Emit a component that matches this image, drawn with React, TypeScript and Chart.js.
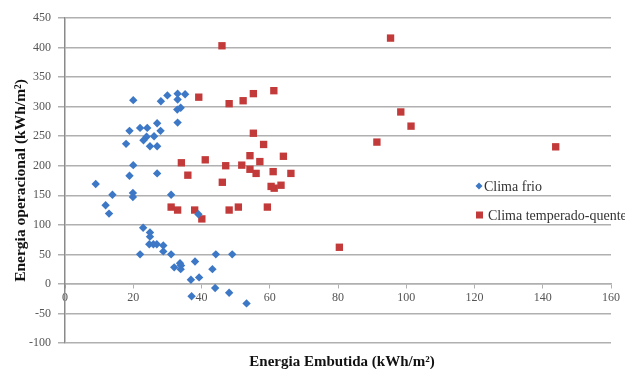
import React, { useEffect, useRef } from "react";
import { Chart, registerables } from "chart.js";

Chart.register(...registerables);

const frioX = [20.0, 28.1, 30.0, 33.0, 35.2, 33.0, 33.9, 32.9, 33.0,
  18.9, 22.0, 24.1, 27.0, 28.0, 23.9, 23.0, 26.1, 24.9, 27.0, 17.9,
  20.0, 18.9, 27.0,
  9.0, 13.9, 19.9, 19.9, 11.9, 12.9, 31.1,
  22.9, 24.9, 24.9, 24.7, 25.9, 26.9, 28.8, 28.8, 31.1, 22.0,
  32.0, 33.7, 34.0, 33.9, 38.1, 43.2, 36.9, 39.3,
  44.2, 49.0, 44.0, 48.1, 37.1, 53.2, 39.1];
const frioY = [311, 309, 319, 322, 321, 312, 298, 295, 273,
  259, 264, 264, 272, 259, 249, 243, 250, 233, 233, 237,
  201, 183, 187,
  169, 151, 154, 147, 133, 119, 151,
  95, 87, 80, 67, 67, 67, 65, 55, 50, 50,
  28, 35, 31, 25, 38, 25, 7, 11,
  50, 50, -7, -15, -21, -33, 118];

const quenteX = [46.0, 95.4, 39.2, 48.1, 52.2, 55.2, 61.2,
  98.4, 101.4, 91.4, 143.8,
  55.2, 58.2, 54.2, 64.0, 57.1, 51.8, 54.2, 56.0, 61.0, 66.2,
  60.4, 61.3, 63.3, 46.1,
  34.1, 41.1, 47.1, 36.0,
  31.1, 33.0, 38.0, 40.1, 48.1, 50.8, 59.3,
  80.4];
const quenteY = [403, 416, 316, 305, 310, 322, 327,
  291, 267, 240, 232,
  255, 236, 217, 216, 207, 201, 194, 187, 190, 187,
  165, 162, 167, 172,
  205, 210, 200, 184,
  130, 125, 125, 110, 125, 130, 130,
  62];

const seriesNames = ["Clima frio", "Clima temperado-quente"];
const xTitle = "Energia Embutida (kWh/m²)";
const yTitle = "Energia operacional (kWh/m²)";

const BLUE = "#3d78c6";
const RED = "#c33a3a";
const SERIF = "'Liberation Serif', 'Times New Roman', serif";

const extrasPlugin = {
  id: "extras",
  afterDraw(chart: any) {
    const { ctx, chartArea } = chart;
    ctx.save();
    // x axis title
    ctx.fillStyle = "#111";
    ctx.font = `bold 15px ${SERIF}`;
    ctx.textAlign = "center";
    ctx.textBaseline = "middle";
    ctx.fillText(xTitle, (chartArea.left + chartArea.right) / 2 + 4, chart.height - 7);
    // legend
    const lx = chartArea.right - 132;
    const y1 = chartArea.top + 168;
    const y2 = chartArea.top + 197;
    ctx.fillStyle = BLUE;
    ctx.beginPath();
    ctx.moveTo(lx, y1 - 3.5);
    ctx.lineTo(lx + 3.5, y1);
    ctx.lineTo(lx, y1 + 3.5);
    ctx.lineTo(lx - 3.5, y1);
    ctx.closePath();
    ctx.fill();
    ctx.fillStyle = RED;
    ctx.fillRect(lx - 3, y2 - 3.5, 7, 7);
    ctx.fillStyle = "#333";
    ctx.font = `14px ${SERIF}`;
    ctx.textAlign = "left";
    ctx.fillText(seriesNames[0], lx + 5, y1 + 1);
    ctx.fillText(seriesNames[1], lx + 9, y2 + 1);
    ctx.restore();
  },
};

export default function App() {
  const ref = useRef<HTMLCanvasElement | null>(null);
  useEffect(() => {
    if (!ref.current) return;
    const chart = new Chart(ref.current, {
      type: "scatter",
      data: {
        datasets: [
          {
            label: seriesNames[0],
            data: frioX.map((x, i) => ({ x, y: frioY[i] })),
            pointStyle: "rectRot",
            pointRadius: 4.2,
            backgroundColor: BLUE,
            borderColor: BLUE,
            borderWidth: 0,
          },
          {
            label: seriesNames[1],
            data: quenteX.map((x, i) => ({ x, y: quenteY[i] })),
            pointStyle: "rect",
            pointRadius: 5.2,
            backgroundColor: RED,
            borderColor: RED,
            borderWidth: 0,
          },
        ],
      },
      options: {
        animation: false,
        responsive: true,
        maintainAspectRatio: false,
        layout: { padding: { left: 0, right: 14, top: 18, bottom: 26 } },
        plugins: {
          legend: { display: false },
          tooltip: { enabled: false },
        },
        scales: {
          x: {
            type: "linear",
            position: { y: 0 } as any,
            min: 0,
            max: 160,
            ticks: {
              stepSize: 20,
              color: "#555",
              font: { family: SERIF, size: 12 },
              padding: 3,
            },
            grid: {
              display: true,
              drawOnChartArea: false,
              drawTicks: true,
              tickLength: 4,
              color: "#b0b0b0",
            },
            border: { display: true, color: "#b0b0b0", width: 1.5 },
          },
          y: {
            type: "linear",
            min: -100,
            max: 450,
            afterFit: (s: any) => {
              s.width = 65;
            },
            ticks: {
              stepSize: 50,
              color: "#555",
              font: { family: SERIF, size: 12 },
              padding: 7,
            },
            grid: {
              color: "#b0b0b0",
              lineWidth: 1.5,
              tickLength: 7,
            },
            border: { display: true, color: "#8a8a8a", width: 1.5 },
            title: {
              display: true,
              text: yTitle,
              color: "#111",
              font: { family: SERIF, size: 15.5, weight: "bold" },
              padding: 12,
            },
          },
        },
      },
      plugins: [extrasPlugin],
    } as any);
    return () => chart.destroy();
  }, []);
  return (
    <div style={{ position: "fixed", left: 0, top: 0, width: 625, height: 369, background: "#fff" }}>
      <canvas ref={ref} />
    </div>
  );
}
